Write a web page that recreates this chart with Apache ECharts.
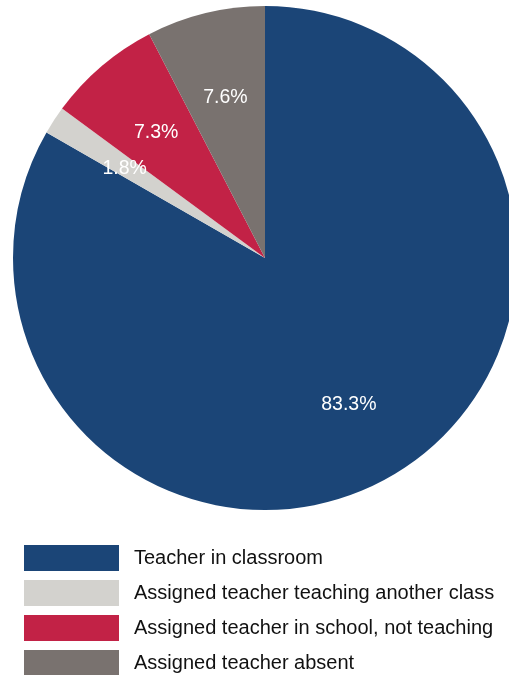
<!DOCTYPE html>
<html>
<head>
<meta charset="utf-8">
<script src="https://cdn.jsdelivr.net/npm/echarts@6/dist/echarts.min.js"></script>
<style>html,body{margin:0;padding:0;background:#fff;}#chart{width:509px;height:675px;}</style>
</head>
<body>
<div id="chart"></div>
<script>
const categories = ["Teacher in classroom", "Assigned teacher teaching another class", "Assigned teacher in school, not teaching", "Assigned teacher absent"];
const values = [83.3, 1.8, 7.3, 7.6];
const colors = ["#1b4577", "#d3d2ce", "#c22246", "#79726f"];

const data = categories.map((c, i) => ({ name: c, value: values[i], itemStyle: { color: colors[i] } }));

const chart = echarts.init(document.getElementById('chart'), null, { renderer: 'canvas' });
chart.setOption({
  animation: false,
  legend: {
    orient: 'vertical',
    left: 24,
    top: 545,
    height: 200,
    padding: 0,
    itemWidth: 95,
    itemHeight: 26,
    itemGap: 9,
    icon: 'rect',
    textStyle: { fontFamily: 'Liberation Sans, Arial, sans-serif', fontSize: 20, color: '#111', padding: [0, 0, 0, 10] },
    data: categories
  },
  series: [
    {
      type: 'pie',
      center: [265, 258],
      radius: [0, 252],
      startAngle: 90,
      clockwise: true,
      label: { show: false },
      labelLine: { show: false },
      emphasis: { disabled: true },
      data: data
    },
    {
      type: 'pie',
      center: [265, 258],
      radius: [77, 252],
      startAngle: 90,
      clockwise: true,
      silent: true,
      legendHoverLink: false,
      itemStyle: { color: 'rgba(0,0,0,0)' },
      label: {
        show: true,
        position: 'inside',
        offset: [0, 2],
        formatter: p => p.value.toFixed(1) + '%',
        color: '#fff',
        fontFamily: 'Liberation Sans, Arial, sans-serif',
        fontSize: 19.5
      },
      labelLine: { show: false },
      emphasis: { disabled: true },
      data: categories.map((c, i) => ({ name: c + ' ', value: values[i], itemStyle: { color: 'rgba(0,0,0,0)' } }))
    }
  ]
});
</script>
</body>
</html>
